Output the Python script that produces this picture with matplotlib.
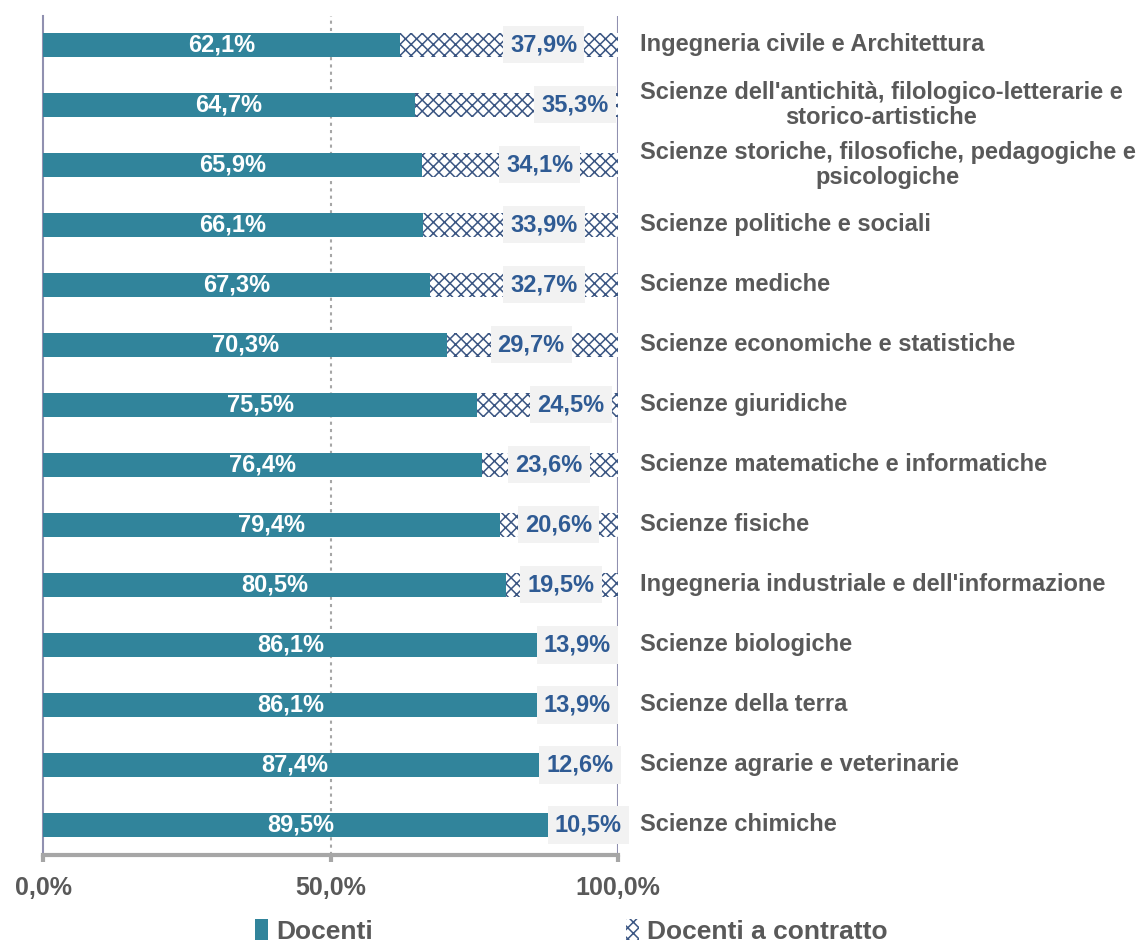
import matplotlib
matplotlib.use("Agg")
import matplotlib.pyplot as plt
from matplotlib.patches import Patch

plt.rcParams['font.family'] = ['Liberation Sans', 'DejaVu Sans']
plt.rcParams['font.weight'] = 'bold'
plt.rcParams['hatch.linewidth'] = 1.1

categorie = [
    "Ingegneria civile e Architettura",
    "Scienze dell'antichità, filologico-letterarie e\nstorico-artistiche",
    "Scienze storiche, filosofiche, pedagogiche e\npsicologiche",
    "Scienze politiche e sociali",
    "Scienze mediche",
    "Scienze economiche e statistiche",
    "Scienze giuridiche",
    "Scienze matematiche e informatiche",
    "Scienze fisiche",
    "Ingegneria industriale e dell'informazione",
    "Scienze biologiche",
    "Scienze della terra",
    "Scienze agrarie e veterinarie",
    "Scienze chimiche",
]
docenti = [62.1, 64.7, 65.9, 66.1, 67.3, 70.3, 75.5, 76.4, 79.4, 80.5, 86.1, 86.1, 87.4, 89.5]
contratto = [37.9, 35.3, 34.1, 33.9, 32.7, 29.7, 24.5, 23.6, 20.6, 19.5, 13.9, 13.9, 12.6, 10.5]
# posizione (in %) delle etichette dei docenti a contratto, come nel grafico originale
pos_etich = [87.1, 92.5, 86.4, 87.1, 87.1, 84.9, 91.8, 88.0, 89.6, 90.1, 92.9, 92.9, 93.4, 94.8]

col_doc = '#31849B'
col_hatch = '#3B5683'
col_lab = '#2F5B94'
col_txt = '#595959'
col_tick = '#595959'

fig = plt.figure(figsize=(11.47, 9.42), dpi=100)
ax = fig.add_axes([0.0375, 0.0924, 0.5013, 0.8906])

y = list(range(len(categorie)))
ax.barh(y, docenti, height=0.4, color=col_doc, label='Docenti', zorder=3)
ax.barh(y, contratto, left=docenti, height=0.4, color='white', edgecolor=col_hatch,
        hatch='xxx', linewidth=0, label='Docenti a contratto', zorder=3)

for i in y:
    ax.text(docenti[i] / 2, i, f"{docenti[i]:.1f}%".replace('.', ','), ha='center', va='center',
            color='white', fontsize=17, fontweight='bold', zorder=5)
    ax.text(pos_etich[i], i, f"{contratto[i]:.1f}%".replace('.', ','), ha='center', va='center',
            color=col_lab, fontsize=17, fontweight='bold', zorder=5,
            bbox=dict(boxstyle='square,pad=0.3', fc='#F2F2F2', ec='none'))
    ax.text(103.8, i, categorie[i], ha='left', va='center', multialignment='center',
            color=col_txt, fontsize=17, fontweight='bold', linespacing=1.1, clip_on=False)

ax.set_xlim(0, 100)
ax.set_ylim(13.5, -0.48)
ax.axvline(50, color='#A6A6A6', linestyle=(0, (1.5, 2)), linewidth=1.5, zorder=1)
ax.axvline(100, color='#9090B0', linewidth=1.5, zorder=1)

for s in ['top', 'right']:
    ax.spines[s].set_visible(False)
ax.spines['left'].set_color('#9090B0')
ax.spines['left'].set_linewidth(1.5)
ax.spines['bottom'].set_color('#A6A6A6')
ax.spines['bottom'].set_linewidth(3)
ax.set_yticks([])
ax.set_xticks([0, 50, 100])
ax.set_xticklabels(['0,0%', '50,0%', '100,0%'])
ax.tick_params(axis='x', colors='#A6A6A6', width=3, length=5, pad=10,
               labelsize=18, labelcolor=col_tick)

handles = [Patch(facecolor=col_doc, label='Docenti'),
           Patch(facecolor='white', edgecolor=col_hatch, hatch='xxx', linewidth=0,
                 label='Docenti a contratto')]
leg = fig.legend(handles=handles, loc='lower left', bbox_to_anchor=(0.2015, -0.027), ncol=2,
                 frameon=False, fontsize=19, handlelength=0.5, handleheight=0.8,
                 handletextpad=0.3, columnspacing=9.6)
for t in leg.get_texts():
    t.set_color(col_tick)

fig.savefig('out.png', dpi=100)
